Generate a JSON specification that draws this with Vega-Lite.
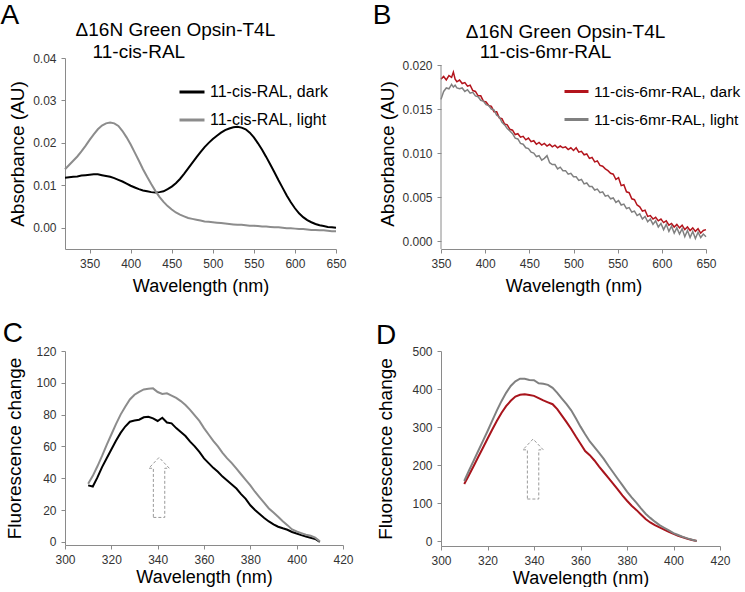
{
"$schema": "https://vega.github.io/schema/vega-lite/v6.json",
"padding": {"left": 0, "top": 1, "right": 0, "bottom": 0},
"columns": 2,
"bounds": "flush",
"spacing": {"row": 102, "column": 98},
"resolve": {"scale": {"color": "independent", "x": "independent", "y": "independent"}, "legend": {"color": "independent"}},
"config": {
  "font": "Liberation Sans",
  "view": {"stroke": null},
  "axis": {"grid": false, "domainColor": "#8a8a8a", "tickColor": "#8a8a8a", "labelColor": "#333333", "labelFontSize": 12, "titleFontSize": 18, "titleFontWeight": "normal", "titleColor": "#000000", "labelFlush": false, "labelOverlap": false, "labelBound": false, "tickSize": 4, "labelPadding": 5, "tickCount": 12},
  "axisY": {"titleFontSize": 19},
  "text": {"font": "Liberation Sans", "color": "#000000"}
},
"datasets": {
"a": [
{"wl":320,"dark":0.0118,"light":0.0138},{"wl":325,"dark":0.0119,"light":0.0148},{"wl":330,"dark":0.0120,"light":0.0158},{"wl":335,"dark":0.0121,"light":0.0168},{"wl":340,"dark":0.0123,"light":0.0180},{"wl":345,"dark":0.0124,"light":0.0193},{"wl":350,"dark":0.0125,"light":0.0207},{"wl":355,"dark":0.0126,"light":0.0220},{"wl":360,"dark":0.0126,"light":0.0232},{"wl":365,"dark":0.0124,"light":0.0241},{"wl":370,"dark":0.0122,"light":0.0246},{"wl":375,"dark":0.0120,"light":0.0248},{"wl":380,"dark":0.0117,"light":0.0246},{"wl":385,"dark":0.0113,"light":0.0240},{"wl":390,"dark":0.0109,"light":0.0228},{"wl":395,"dark":0.0104,"light":0.0213},{"wl":400,"dark":0.0099,"light":0.0196},{"wl":405,"dark":0.0095,"light":0.0177},{"wl":410,"dark":0.0091,"light":0.0158},{"wl":415,"dark":0.0088,"light":0.0138},{"wl":420,"dark":0.0086,"light":0.0120},{"wl":425,"dark":0.0084,"light":0.0103},{"wl":430,"dark":0.0083,"light":0.0087},{"wl":435,"dark":0.0084,"light":0.0073},{"wl":440,"dark":0.0086,"light":0.0061},{"wl":445,"dark":0.0091,"light":0.0051},{"wl":450,"dark":0.0097,"light":0.0043},{"wl":455,"dark":0.0105,"light":0.0036},{"wl":460,"dark":0.0115,"light":0.0031},{"wl":465,"dark":0.0127,"light":0.0027},{"wl":470,"dark":0.0140,"light":0.0023},{"wl":475,"dark":0.0153,"light":0.0021},{"wl":480,"dark":0.0166,"light":0.0019},{"wl":485,"dark":0.0178,"light":0.0017},{"wl":490,"dark":0.0190,"light":0.0015},{"wl":495,"dark":0.0200,"light":0.0014},{"wl":500,"dark":0.0209,"light":0.0013},{"wl":505,"dark":0.0217,"light":0.0012},{"wl":510,"dark":0.0224,"light":0.0011},{"wl":515,"dark":0.0230,"light":0.0010},{"wl":520,"dark":0.0234,"light":0.0009},{"wl":525,"dark":0.0237,"light":0.0008},{"wl":530,"dark":0.0238,"light":0.0007},{"wl":535,"dark":0.0236,"light":0.0007},{"wl":540,"dark":0.0232,"light":0.0006},{"wl":545,"dark":0.0224,"light":0.0005},{"wl":550,"dark":0.0213,"light":0.0005},{"wl":555,"dark":0.0199,"light":0.0004},{"wl":560,"dark":0.0184,"light":0.0003},{"wl":565,"dark":0.0167,"light":0.0003},{"wl":570,"dark":0.0149,"light":0.0002},{"wl":575,"dark":0.0131,"light":0.0001},{"wl":580,"dark":0.0112,"light":0.0001},{"wl":585,"dark":0.0094,"light":0.0000},{"wl":590,"dark":0.0076,"light":-0.0001},{"wl":595,"dark":0.0060,"light":-0.0001},{"wl":600,"dark":0.0046,"light":-0.0002},{"wl":605,"dark":0.0034,"light":-0.0003},{"wl":610,"dark":0.0025,"light":-0.0003},{"wl":615,"dark":0.0018,"light":-0.0004},{"wl":620,"dark":0.0013,"light":-0.0005},{"wl":625,"dark":0.0009,"light":-0.0005},{"wl":630,"dark":0.0006,"light":-0.0006},{"wl":635,"dark":0.0004,"light":-0.0006},{"wl":640,"dark":0.0002,"light":-0.0007},{"wl":645,"dark":0.0001,"light":-0.0008},{"wl":650,"dark":0.0000,"light":-0.0008}
],
"b": [
{"wl":350,"dark":0.0184,"light":0.0161},{"wl":353,"dark":0.0187,"light":0.0170},{"wl":356,"dark":0.0183,"light":0.0174},{"wl":359,"dark":0.0188,"light":0.0173},{"wl":362,"dark":0.0186,"light":0.0178},{"wl":364,"dark":0.0192,"light":0.0175},{"wl":366,"dark":0.0184,"light":0.0177},{"wl":368,"dark":0.0181,"light":0.0174},{"wl":371,"dark":0.0183,"light":0.0173},{"wl":374,"dark":0.0179,"light":0.0174},{"wl":377,"dark":0.0180,"light":0.0170},{"wl":380,"dark":0.0176,"light":0.0172},{"wl":383,"dark":0.0177,"light":0.0168},{"wl":386,"dark":0.0171,"light":0.0169},{"wl":389,"dark":0.0170,"light":0.0165},{"wl":392,"dark":0.0165,"light":0.0164},{"wl":395,"dark":0.0165,"light":0.0160},{"wl":398,"dark":0.0159,"light":0.0159},{"wl":401,"dark":0.0158,"light":0.0155},{"wl":404,"dark":0.0154,"light":0.0154},{"wl":407,"dark":0.0153,"light":0.0150},{"wl":410,"dark":0.0147,"light":0.0149},{"wl":413,"dark":0.0147,"light":0.0143},{"wl":416,"dark":0.0140,"light":0.0141},{"wl":419,"dark":0.0139,"light":0.0135},{"wl":422,"dark":0.0133,"light":0.0132},{"wl":425,"dark":0.0132,"light":0.0128},{"wl":428,"dark":0.0127,"light":0.0125},{"wl":431,"dark":0.0126,"light":0.0122},{"wl":434,"dark":0.0121,"light":0.0117},{"wl":437,"dark":0.0122,"light":0.0116},{"wl":440,"dark":0.0118,"light":0.0111},{"wl":443,"dark":0.0119,"light":0.0110},{"wl":446,"dark":0.0115,"light":0.0106},{"wl":449,"dark":0.0117,"light":0.0105},{"wl":452,"dark":0.0113,"light":0.0101},{"wl":455,"dark":0.0114,"light":0.0100},{"wl":458,"dark":0.0110,"light":0.0096},{"wl":461,"dark":0.0112,"light":0.0097},{"wl":464,"dark":0.0109,"light":0.0092},{"wl":467,"dark":0.0111,"light":0.0094},{"wl":470,"dark":0.0108,"light":0.0097},{"wl":473,"dark":0.0110,"light":0.0089},{"wl":476,"dark":0.0107,"light":0.0087},{"wl":479,"dark":0.0109,"light":0.0087},{"wl":482,"dark":0.0106,"light":0.0082},{"wl":485,"dark":0.0108,"light":0.0084},{"wl":488,"dark":0.0106,"light":0.0080},{"wl":491,"dark":0.0107,"light":0.0080},{"wl":494,"dark":0.0104,"light":0.0076},{"wl":497,"dark":0.0106,"light":0.0077},{"wl":500,"dark":0.0103,"light":0.0073},{"wl":503,"dark":0.0106,"light":0.0073},{"wl":506,"dark":0.0101,"light":0.0069},{"wl":509,"dark":0.0102,"light":0.0070},{"wl":512,"dark":0.0098,"light":0.0065},{"wl":515,"dark":0.0099,"light":0.0066},{"wl":518,"dark":0.0094,"light":0.0062},{"wl":521,"dark":0.0095,"light":0.0062},{"wl":524,"dark":0.0090,"light":0.0058},{"wl":527,"dark":0.0091,"light":0.0059},{"wl":530,"dark":0.0086,"light":0.0055},{"wl":533,"dark":0.0085,"light":0.0056},{"wl":536,"dark":0.0082,"light":0.0051},{"wl":539,"dark":0.0080,"light":0.0052},{"wl":542,"dark":0.0077,"light":0.0048},{"wl":545,"dark":0.0076,"light":0.0049},{"wl":548,"dark":0.0070,"light":0.0044},{"wl":551,"dark":0.0072,"light":0.0046},{"wl":554,"dark":0.0063,"light":0.0041},{"wl":557,"dark":0.0064,"light":0.0042},{"wl":560,"dark":0.0056,"light":0.0037},{"wl":563,"dark":0.0055,"light":0.0038},{"wl":566,"dark":0.0048,"light":0.0033},{"wl":569,"dark":0.0047,"light":0.0034},{"wl":572,"dark":0.0041,"light":0.0029},{"wl":575,"dark":0.0039,"light":0.0031},{"wl":578,"dark":0.0034,"light":0.0025},{"wl":581,"dark":0.0035,"light":0.0028},{"wl":584,"dark":0.0028,"light":0.0022},{"wl":587,"dark":0.0029,"light":0.0025},{"wl":590,"dark":0.0025,"light":0.0019},{"wl":593,"dark":0.0027,"light":0.0023},{"wl":596,"dark":0.0023,"light":0.0016},{"wl":599,"dark":0.0025,"light":0.0020},{"wl":602,"dark":0.0021,"light":0.0013},{"wl":605,"dark":0.0023,"light":0.0019},{"wl":608,"dark":0.0018,"light":0.0011},{"wl":611,"dark":0.0020,"light":0.0017},{"wl":614,"dark":0.0016,"light":0.0009},{"wl":617,"dark":0.0019,"light":0.0015},{"wl":620,"dark":0.0015,"light":0.0008},{"wl":623,"dark":0.0018,"light":0.0014},{"wl":626,"dark":0.0013,"light":0.0005},{"wl":629,"dark":0.0016,"light":0.0012},{"wl":632,"dark":0.0012,"light":0.0004},{"wl":635,"dark":0.0015,"light":0.0011},{"wl":638,"dark":0.0011,"light":0.0003},{"wl":641,"dark":0.0014,"light":0.0010},{"wl":644,"dark":0.0009,"light":0.0004},{"wl":647,"dark":0.0012,"light":0.0008},{"wl":650,"dark":0.0013,"light":0.0005}
],
"c": [
{"wl":310,"dark":35.5,"light":36.5},{"wl":312,"dark":34.8,"light":41.5},{"wl":314,"dark":40.5,"light":47.5},{"wl":316,"dark":47.0,"light":54.0},{"wl":318,"dark":52.5,"light":61.0},{"wl":320,"dark":58.0,"light":67.5},{"wl":322,"dark":63.5,"light":74.0},{"wl":324,"dark":68.5,"light":80.0},{"wl":326,"dark":72.5,"light":85.0},{"wl":328,"dark":75.5,"light":89.5},{"wl":330,"dark":76.3,"light":92.5},{"wl":332,"dark":76.8,"light":94.3},{"wl":334,"dark":78.3,"light":95.8},{"wl":336,"dark":78.6,"light":96.2},{"wl":338,"dark":77.6,"light":96.5},{"wl":340,"dark":76.0,"light":94.2},{"wl":342,"dark":78.0,"light":93.0},{"wl":344,"dark":75.0,"light":93.4},{"wl":346,"dark":74.5,"light":92.0},{"wl":348,"dark":71.5,"light":90.5},{"wl":350,"dark":69.0,"light":88.5},{"wl":352,"dark":66.5,"light":86.0},{"wl":354,"dark":63.0,"light":83.0},{"wl":356,"dark":60.0,"light":79.5},{"wl":358,"dark":56.5,"light":76.0},{"wl":360,"dark":52.5,"light":71.5},{"wl":362,"dark":49.5,"light":67.5},{"wl":364,"dark":46.5,"light":63.5},{"wl":366,"dark":44.0,"light":60.0},{"wl":368,"dark":41.0,"light":56.0},{"wl":370,"dark":38.5,"light":52.5},{"wl":372,"dark":36.0,"light":49.5},{"wl":374,"dark":33.5,"light":46.0},{"wl":376,"dark":30.0,"light":42.5},{"wl":378,"dark":27.0,"light":39.0},{"wl":380,"dark":23.0,"light":35.5},{"wl":382,"dark":20.0,"light":31.5},{"wl":384,"dark":17.5,"light":28.0},{"wl":386,"dark":15.0,"light":24.5},{"wl":388,"dark":12.8,"light":21.0},{"wl":390,"dark":11.0,"light":18.5},{"wl":392,"dark":9.5,"light":15.8},{"wl":394,"dark":8.5,"light":13.0},{"wl":396,"dark":7.6,"light":10.5},{"wl":398,"dark":6.2,"light":7.8},{"wl":400,"dark":5.2,"light":6.5},{"wl":402,"dark":4.2,"light":5.5},{"wl":404,"dark":3.4,"light":4.5},{"wl":406,"dark":2.6,"light":3.8},{"wl":408,"dark":1.8,"light":2.6},{"wl":410,"dark":0.0,"light":0.3}
],
"d": [
{"wl":310,"dark":150,"light":158},{"wl":312,"dark":173,"light":185},{"wl":314,"dark":197,"light":211},{"wl":316,"dark":221,"light":237},{"wl":318,"dark":245,"light":263},{"wl":320,"dark":269,"light":289},{"wl":322,"dark":293,"light":316},{"wl":324,"dark":316,"light":343},{"wl":326,"dark":337,"light":368},{"wl":328,"dark":355,"light":390},{"wl":330,"dark":369,"light":408},{"wl":332,"dark":380,"light":420},{"wl":334,"dark":385,"light":427},{"wl":336,"dark":386,"light":427},{"wl":338,"dark":384,"light":424},{"wl":340,"dark":382,"light":423},{"wl":342,"dark":376,"light":415},{"wl":344,"dark":370,"light":414},{"wl":346,"dark":365,"light":411},{"wl":348,"dark":360,"light":403},{"wl":350,"dark":347,"light":390},{"wl":352,"dark":330,"light":375},{"wl":354,"dark":313,"light":360},{"wl":356,"dark":295,"light":344},{"wl":358,"dark":275,"light":323},{"wl":360,"dark":256,"light":301},{"wl":362,"dark":237,"light":281},{"wl":364,"dark":226,"light":262},{"wl":366,"dark":212,"light":247},{"wl":368,"dark":196,"light":232},{"wl":370,"dark":181,"light":216},{"wl":372,"dark":166,"light":198},{"wl":374,"dark":151,"light":181},{"wl":376,"dark":136,"light":164},{"wl":378,"dark":120,"light":147},{"wl":380,"dark":106,"light":130},{"wl":382,"dark":93,"light":115},{"wl":384,"dark":82,"light":101},{"wl":386,"dark":70,"light":86},{"wl":388,"dark":58,"light":72},{"wl":390,"dark":49,"light":61},{"wl":392,"dark":42,"light":51},{"wl":394,"dark":36,"light":42},{"wl":396,"dark":30,"light":35},{"wl":398,"dark":24,"light":28},{"wl":400,"dark":19,"light":21},{"wl":402,"dark":14,"light":16},{"wl":404,"dark":10,"light":11},{"wl":406,"dark":6,"light":7},{"wl":408,"dark":3,"light":3.5},{"wl":410,"dark":0,"light":0}
]
},
"concat": [
{
 "width": 271, "height": 191,
 "layer": [
  {"data": {"name": "a"}, "transform": [{"fold": ["dark", "light"], "as": ["s", "v"]}],
   "mark": {"type": "line", "strokeWidth": 2},
   "encoding": {
    "x": {"field": "wl", "type": "quantitative", "scale": {"domain": [320, 650], "nice": false, "zero": false}, "axis": {"values": [350, 400, 450, 500, 550, 600, 650], "tickCount": 12, "title": "Wavelength (nm)", "titlePadding": 8, "labelOverlap": false}},
    "y": {"field": "v", "type": "quantitative", "scale": {"domain": [-0.005, 0.04], "nice": false, "zero": false}, "axis": {"values": [0, 0.01, 0.02, 0.03, 0.04], "tickCount": 12, "format": ".2f", "title": "Absorbance (AU)", "titlePadding": 5, "labelOverlap": false}},
    "color": {"field": "s", "type": "nominal", "scale": {"domain": ["dark", "light"], "range": ["#000000", "#8c8c8c"]},
      "legend": {"orient": "none", "legendX": 113, "legendY": 20, "title": null, "labelExpr": "datum.label == 'dark' ? '11-cis-RAL, dark' : '11-cis-RAL, light'", "symbolType": "stroke", "symbolSize": 625, "symbolStrokeWidth": 3, "labelFontSize": 16, "labelColor": "#000000", "labelOffset": 4, "rowPadding": 6, "padding": 0}}
   }},
  {"data": {"values": [{}]}, "mark": {"type": "text", "text": "A", "align": "left", "baseline": "alphabetic", "fontSize": 28}, "encoding": {"x": {"datum": 241.6, "type": "quantitative"}, "y": {"datum": 0.048, "type": "quantitative"}}},
  {"data": {"values": [{}]}, "mark": {"type": "text", "text": "Δ16N Green Opsin-T4L", "align": "left", "baseline": "alphabetic", "fontSize": 19}, "encoding": {"x": {"datum": 332.9, "type": "quantitative"}, "y": {"datum": 0.0452, "type": "quantitative"}}},
  {"data": {"values": [{}]}, "mark": {"type": "text", "text": "11-cis-RAL", "align": "left", "baseline": "alphabetic", "fontSize": 19}, "encoding": {"x": {"datum": 353.6, "type": "quantitative"}, "y": {"datum": 0.0401, "type": "quantitative"}}}
 ]
},
{
 "width": 265, "height": 191,
 "layer": [
  {"data": {"name": "b"}, "transform": [{"fold": ["dark", "light"], "as": ["s", "v"]}],
   "mark": {"type": "line", "strokeWidth": 1.5},
   "encoding": {
    "x": {"field": "wl", "type": "quantitative", "scale": {"domain": [350, 650], "nice": false, "zero": false}, "axis": {"values": [350, 400, 450, 500, 550, 600, 650], "tickCount": 12, "title": "Wavelength (nm)", "titlePadding": 8, "labelOverlap": false}},
    "y": {"field": "v", "type": "quantitative", "scale": {"domain": [-0.0009, 0.0208], "nice": false, "zero": false}, "axis": {"values": [0, 0.005, 0.01, 0.015, 0.02], "tickCount": 12, "format": ".3f", "title": "Absorbance (AU)", "titlePadding": 4, "domain": false, "labelOverlap": false}},
    "color": {"field": "s", "type": "nominal", "scale": {"domain": ["dark", "light"], "range": ["#b3141c", "#808080"]},
      "legend": {"orient": "none", "legendX": 122, "legendY": 20, "title": null, "labelExpr": "datum.label == 'dark' ? '11-cis-6mr-RAL, dark' : '11-cis-6mr-RAL, light'", "symbolType": "stroke", "symbolSize": 576, "symbolStrokeWidth": 3, "labelFontSize": 15.5, "labelColor": "#000000", "labelOffset": 4, "rowPadding": 6, "padding": 0}}
   }},
  {"data": {"values": [{}]}, "mark": {"type": "rule", "color": "#8a8a8a"}, "encoding": {"x": {"datum": 350, "type": "quantitative"}, "y": {"datum": -0.0009, "type": "quantitative"}, "y2": {"datum": 0.02}}},
  {"data": {"values": [{}]}, "mark": {"type": "text", "text": "B", "align": "left", "baseline": "alphabetic", "fontSize": 28}, "encoding": {"x": {"datum": 272.7, "type": "quantitative"}, "y": {"datum": 0.0247, "type": "quantitative"}}},
  {"data": {"values": [{}]}, "mark": {"type": "text", "text": "Δ16N Green Opsin-T4L", "align": "left", "baseline": "alphabetic", "fontSize": 19}, "encoding": {"x": {"datum": 378, "type": "quantitative"}, "y": {"datum": 0.0231, "type": "quantitative"}}},
  {"data": {"values": [{}]}, "mark": {"type": "text", "text": "11-cis-6mr-RAL", "align": "left", "baseline": "alphabetic", "fontSize": 19}, "encoding": {"x": {"datum": 393.8, "type": "quantitative"}, "y": {"datum": 0.0208, "type": "quantitative"}}}
 ]
},
{
 "width": 278, "height": 194,
 "layer": [
  {"data": {"name": "c"}, "transform": [{"fold": ["dark", "light"], "as": ["s", "v"]}],
   "mark": {"type": "line", "strokeWidth": 2},
   "encoding": {
    "x": {"field": "wl", "type": "quantitative", "scale": {"domain": [300, 420], "nice": false, "zero": false}, "axis": {"values": [300, 320, 340, 360, 380, 400, 420], "tickCount": 12, "title": "Wavelength (nm)", "titlePadding": 3, "labelOverlap": false}},
    "y": {"field": "v", "type": "quantitative", "scale": {"domain": [-2, 120], "nice": false, "zero": false}, "axis": {"values": [0, 20, 40, 60, 80, 100, 120], "tickCount": 12, "title": "Fluorescence change", "titlePadding": 11, "labelOverlap": false}},
    "color": {"field": "s", "type": "nominal", "scale": {"domain": ["dark", "light"], "range": ["#000000", "#8c8c8c"]}, "legend": null}
   }},
  {"data": {"values": [{}]}, "mark": {"type": "point", "shape": "M-0.19,1L0.19,1L0.19,-0.64L0.34,-0.64L0,-1L-0.34,-0.64L-0.19,-0.64Z", "size": 3600, "filled": false, "stroke": "#999999", "strokeWidth": 1, "strokeDash": [3, 2], "opacity": 1}, "encoding": {"x": {"datum": 340.6, "type": "quantitative"}, "y": {"datum": 34.2, "type": "quantitative"}}},
  {"data": {"values": [{}]}, "mark": {"type": "text", "text": "C", "align": "left", "baseline": "alphabetic", "fontSize": 28}, "encoding": {"x": {"datum": 273.1, "type": "quantitative"}, "y": {"datum": 125.8, "type": "quantitative"}}}
 ]
},
{
 "width": 279, "height": 195,
 "layer": [
  {"data": {"name": "d"}, "transform": [{"fold": ["dark", "light"], "as": ["s", "v"]}],
   "mark": {"type": "line", "strokeWidth": 2},
   "encoding": {
    "x": {"field": "wl", "type": "quantitative", "scale": {"domain": [300, 420], "nice": false, "zero": false}, "axis": {"values": [300, 320, 340, 360, 380, 400, 420], "tickCount": 12, "title": "Wavelength (nm)", "titlePadding": 3, "labelOverlap": false}},
    "y": {"field": "v", "type": "quantitative", "scale": {"domain": [-13, 500], "nice": false, "zero": false}, "axis": {"values": [0, 100, 200, 300, 400, 500], "tickCount": 12, "title": "Fluorescence change", "titlePadding": 16, "labelOverlap": false}},
    "color": {"field": "s", "type": "nominal", "scale": {"domain": ["dark", "light"], "range": ["#a8141c", "#808080"]}, "legend": null}
   }},
  {"data": {"values": [{}]}, "mark": {"type": "point", "shape": "M-0.19,1L0.19,1L0.19,-0.64L0.34,-0.64L0,-1L-0.34,-0.64L-0.19,-0.64Z", "size": 3600, "filled": false, "stroke": "#999999", "strokeWidth": 1, "strokeDash": [3, 2], "opacity": 1}, "encoding": {"x": {"datum": 339.6, "type": "quantitative"}, "y": {"datum": 189.5, "type": "quantitative"}}},
  {"data": {"values": [{}]}, "mark": {"type": "text", "text": "D", "align": "left", "baseline": "alphabetic", "fontSize": 28}, "encoding": {"x": {"datum": 272.0, "type": "quantitative"}, "y": {"datum": 519.2, "type": "quantitative"}}}
 ]
}
]
}
